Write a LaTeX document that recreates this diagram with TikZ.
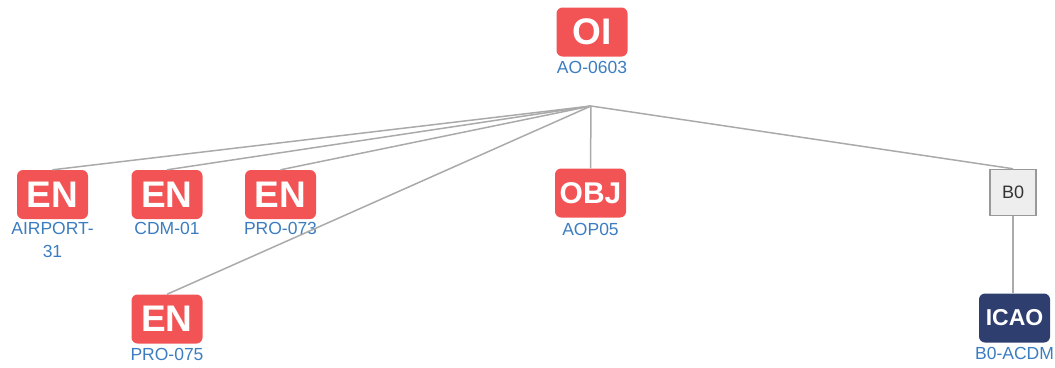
\documentclass[tikz,border=0pt]{standalone}
\usepackage{fontspec}
\setmainfont{Liberation Sans}
\definecolor{boxred}{HTML}{F25456}
\definecolor{lblblue}{HTML}{3B7DC0}
\definecolor{navy}{HTML}{2E3F6F}
\definecolor{linegray}{HTML}{AAAAAA}
\definecolor{bgray}{HTML}{EEEEEE}
\definecolor{bborder}{HTML}{999999}
\begin{document}
\begin{tikzpicture}[x=1pt,y=-1pt,
  tag/.style={fill=boxred,rounded corners=6pt,minimum width=71pt,minimum height=49pt,inner sep=0pt,text=white,font=\bfseries\fontsize{37}{37}\selectfont},
  navytag/.style={tag,fill=navy,font=\bfseries\fontsize{23}{23}\selectfont},
  lbl/.style={anchor=north,inner sep=0pt,text=lblblue,align=center,font=\fontsize{17.5}{23}\selectfont},
  link/.style={draw=linegray,line width=1.5pt}]
\useasboundingbox (0,0) rectangle (1055,367);
% nodes
\node[tag] (oi) at (592,32) {OI};
\node[lbl] (oil) at (592,61) {AO-0603};
\coordinate (hub) at (591,106);
\node[tag] (en1) at (52.5,194.5) {EN};
\node[lbl] (en1l) at (52.5,222.5) {AIRPORT-\\31};
\node[tag] (en2) at (167,194.5) {EN};
\node[lbl] (en2l) at (167,222.5) {CDM-01};
\node[tag] (en3) at (280.5,194.5) {EN};
\node[lbl] (en3l) at (280.5,222.5) {PRO-073};
\node[tag] (en4) at (167,319) {EN};
\node[lbl] (en4l) at (167,348) {PRO-075};
\node[tag,font=\bfseries\fontsize{30}{30}\selectfont] (obj) at (590.5,193) {OBJ};
\node[lbl] (objl) at (590.5,223) {AOP05};
\node[draw=bborder,fill=bgray,line width=1.5pt,minimum width=46pt,minimum height=46pt,inner sep=0pt,text=black!80,font=\fontsize{18}{18}\selectfont] (b0) at (1013,192.5) {B0};
\node[navytag] (icao) at (1014.5,318) {ICAO};
\node[lbl] (icaol) at (1014.5,347) {B0-ACDM};
% connectors
\begin{scope}[on background layer/.try]
\draw[link] (hub) -- (en1.north);
\draw[link] (hub) -- (en2.north);
\draw[link] (hub) -- (en3.north);
\draw[link] (hub) -- (en4.north);
\draw[link] (hub) -- (obj.north);
\draw[link] (hub) -- (b0.north);
\draw[link] (b0.south) -- (b0.south |- icao.north);
\end{scope}
\end{tikzpicture}
\end{document}
